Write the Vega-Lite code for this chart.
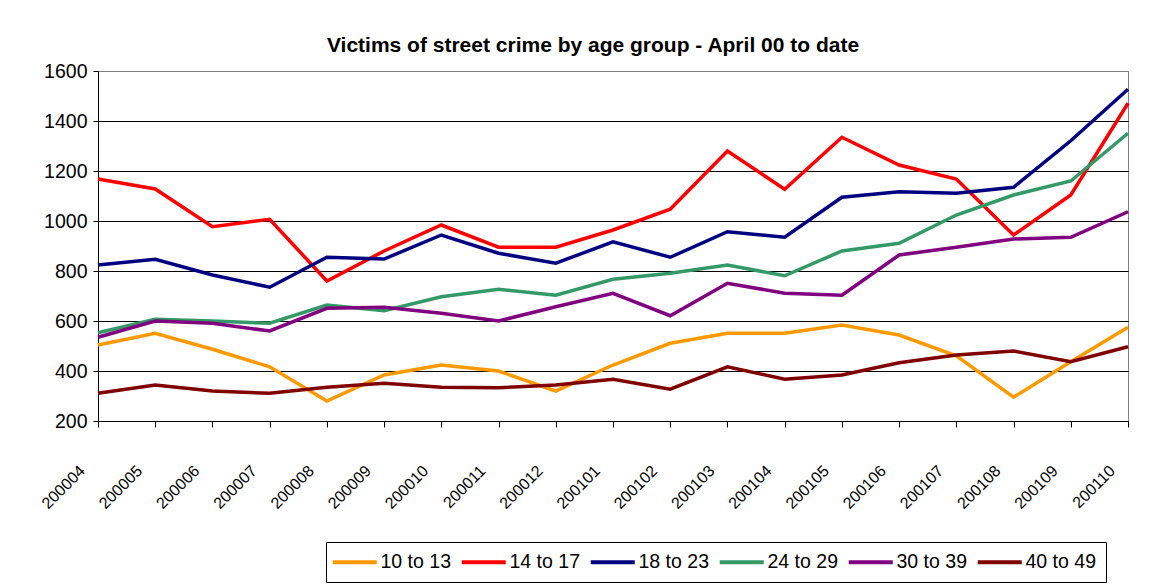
{
  "$schema": "https://vega.github.io/schema/vega-lite/v6.json",
  "autosize": "none",
  "width": 1030,
  "height": 350,
  "padding": {"left": 98, "top": 71, "right": 36, "bottom": 166},
  "background": "white",
  "title": {
    "text": "Victims of street crime by age group - April 00 to date",
    "font": "Liberation Sans",
    "fontSize": 21,
    "fontWeight": "bold",
    "color": "black",
    "anchor": "middle",
    "frame": "group",
    "dx": -20,
    "offset": 5
  },
  "data": {
    "values": [
      {"m":"200004","g":"10 to 13","v":504},{"m":"200004","g":"14 to 17","v":1168},{"m":"200004","g":"18 to 23","v":824},{"m":"200004","g":"24 to 29","v":553},{"m":"200004","g":"30 to 39","v":535},{"m":"200004","g":"40 to 49","v":311},
      {"m":"200005","g":"10 to 13","v":551},{"m":"200005","g":"14 to 17","v":1128},{"m":"200005","g":"18 to 23","v":847},{"m":"200005","g":"24 to 29","v":607},{"m":"200005","g":"30 to 39","v":600},{"m":"200005","g":"40 to 49","v":344},
      {"m":"200006","g":"10 to 13","v":487},{"m":"200006","g":"14 to 17","v":977},{"m":"200006","g":"18 to 23","v":784},{"m":"200006","g":"24 to 29","v":600},{"m":"200006","g":"30 to 39","v":591},{"m":"200006","g":"40 to 49","v":320},
      {"m":"200007","g":"10 to 13","v":417},{"m":"200007","g":"14 to 17","v":1007},{"m":"200007","g":"18 to 23","v":735},{"m":"200007","g":"24 to 29","v":591},{"m":"200007","g":"30 to 39","v":560},{"m":"200007","g":"40 to 49","v":311},
      {"m":"200008","g":"10 to 13","v":280},{"m":"200008","g":"14 to 17","v":760},{"m":"200008","g":"18 to 23","v":855},{"m":"200008","g":"24 to 29","v":664},{"m":"200008","g":"30 to 39","v":651},{"m":"200008","g":"40 to 49","v":335},
      {"m":"200009","g":"10 to 13","v":384},{"m":"200009","g":"14 to 17","v":880},{"m":"200009","g":"18 to 23","v":848},{"m":"200009","g":"24 to 29","v":641},{"m":"200009","g":"30 to 39","v":655},{"m":"200009","g":"40 to 49","v":351},
      {"m":"200010","g":"10 to 13","v":424},{"m":"200010","g":"14 to 17","v":984},{"m":"200010","g":"18 to 23","v":944},{"m":"200010","g":"24 to 29","v":697},{"m":"200010","g":"30 to 39","v":631},{"m":"200010","g":"40 to 49","v":335},
      {"m":"200011","g":"10 to 13","v":400},{"m":"200011","g":"14 to 17","v":895},{"m":"200011","g":"18 to 23","v":871},{"m":"200011","g":"24 to 29","v":727},{"m":"200011","g":"30 to 39","v":600},{"m":"200011","g":"40 to 49","v":333},
      {"m":"200012","g":"10 to 13","v":320},{"m":"200012","g":"14 to 17","v":895},{"m":"200012","g":"18 to 23","v":831},{"m":"200012","g":"24 to 29","v":703},{"m":"200012","g":"30 to 39","v":657},{"m":"200012","g":"40 to 49","v":344},
      {"m":"200101","g":"10 to 13","v":424},{"m":"200101","g":"14 to 17","v":964},{"m":"200101","g":"18 to 23","v":917},{"m":"200101","g":"24 to 29","v":767},{"m":"200101","g":"30 to 39","v":711},{"m":"200101","g":"40 to 49","v":367},
      {"m":"200102","g":"10 to 13","v":511},{"m":"200102","g":"14 to 17","v":1047},{"m":"200102","g":"18 to 23","v":855},{"m":"200102","g":"24 to 29","v":791},{"m":"200102","g":"30 to 39","v":621},{"m":"200102","g":"40 to 49","v":327},
      {"m":"200103","g":"10 to 13","v":551},{"m":"200103","g":"14 to 17","v":1280},{"m":"200103","g":"18 to 23","v":957},{"m":"200103","g":"24 to 29","v":824},{"m":"200103","g":"30 to 39","v":751},{"m":"200103","g":"40 to 49","v":417},
      {"m":"200104","g":"10 to 13","v":551},{"m":"200104","g":"14 to 17","v":1127},{"m":"200104","g":"18 to 23","v":935},{"m":"200104","g":"24 to 29","v":781},{"m":"200104","g":"30 to 39","v":711},{"m":"200104","g":"40 to 49","v":367},
      {"m":"200105","g":"10 to 13","v":584},{"m":"200105","g":"14 to 17","v":1335},{"m":"200105","g":"18 to 23","v":1095},{"m":"200105","g":"24 to 29","v":880},{"m":"200105","g":"30 to 39","v":703},{"m":"200105","g":"40 to 49","v":384},
      {"m":"200106","g":"10 to 13","v":544},{"m":"200106","g":"14 to 17","v":1224},{"m":"200106","g":"18 to 23","v":1117},{"m":"200106","g":"24 to 29","v":911},{"m":"200106","g":"30 to 39","v":864},{"m":"200106","g":"40 to 49","v":433},
      {"m":"200107","g":"10 to 13","v":461},{"m":"200107","g":"14 to 17","v":1168},{"m":"200107","g":"18 to 23","v":1111},{"m":"200107","g":"24 to 29","v":1024},{"m":"200107","g":"30 to 39","v":895},{"m":"200107","g":"40 to 49","v":464},
      {"m":"200108","g":"10 to 13","v":295},{"m":"200108","g":"14 to 17","v":944},{"m":"200108","g":"18 to 23","v":1135},{"m":"200108","g":"24 to 29","v":1104},{"m":"200108","g":"30 to 39","v":928},{"m":"200108","g":"40 to 49","v":480},
      {"m":"200109","g":"10 to 13","v":437},{"m":"200109","g":"14 to 17","v":1104},{"m":"200109","g":"18 to 23","v":1321},{"m":"200109","g":"24 to 29","v":1160},{"m":"200109","g":"30 to 39","v":935},{"m":"200109","g":"40 to 49","v":437},
      {"m":"200110","g":"10 to 13","v":575},{"m":"200110","g":"14 to 17","v":1471},{"m":"200110","g":"18 to 23","v":1527},{"m":"200110","g":"24 to 29","v":1351},{"m":"200110","g":"30 to 39","v":1037},{"m":"200110","g":"40 to 49","v":497}
    ]
  },
  "mark": {"type": "line", "strokeWidth": 3.5, "strokeJoin": "miter"},
  "encoding": {
    "x": {
      "field": "m",
      "type": "ordinal",
      "scale": {"type": "point", "padding": 0},
      "axis": {
        "title": null,
        "labelAngle": -45,
        "labelAlign": "right",
        "labelBaseline": "middle",
        "labelOffset": -16,
        "labelPadding": 41,
        "labelFont": "Liberation Sans",
        "labelFontSize": 16,
        "labelColor": "black",
        "labelOverlap": false,
        "tickSize": 6,
        "tickColor": "black",
        "domainColor": "black",
        "grid": false
      }
    },
    "y": {
      "field": "v",
      "type": "quantitative",
      "scale": {"domain": [200, 1600], "nice": false},
      "axis": {
        "title": null,
        "values": [200, 400, 600, 800, 1000, 1200, 1400, 1600],
        "format": "d",
        "labelFont": "Liberation Sans",
        "labelFontSize": 19.5,
        "labelColor": "black",
        "labelPadding": 6,
        "tickSize": 5,
        "tickColor": "black",
        "domainColor": "black",
        "grid": true,
        "gridColor": {"condition": {"test": "datum.value == 1600", "value": "#808080"}, "value": "black"},
        "gridOpacity": 1
      }
    },
    "color": {
      "field": "g",
      "type": "nominal",
      "scale": {
        "domain": ["10 to 13", "14 to 17", "18 to 23", "24 to 29", "30 to 39", "40 to 49"],
        "range": ["#FF9900", "#FF0000", "#000080", "#339966", "#800080", "#800000"]
      },
      "legend": {
        "title": null,
        "orient": "none",
        "legendX": 228,
        "legendY": 471,
        "direction": "horizontal",
        "symbolType": "M-3.143,0H3.143",
        "symbolSize": 196,
        "symbolStrokeWidth": 4,
        "symbolOffset": 9,
        "labelFont": "Liberation Sans",
        "labelFontSize": 19.5,
        "labelColor": "black",
        "labelOffset": 16,
        "columnPadding": 2,
        "padding": 10,
        "strokeColor": "black",
        "fillColor": "white"
      }
    }
  },
  "config": {
    "view": {"stroke": "#808080", "strokeWidth": 1},
    "legend": {"labelLimit": 200}
  }
}
